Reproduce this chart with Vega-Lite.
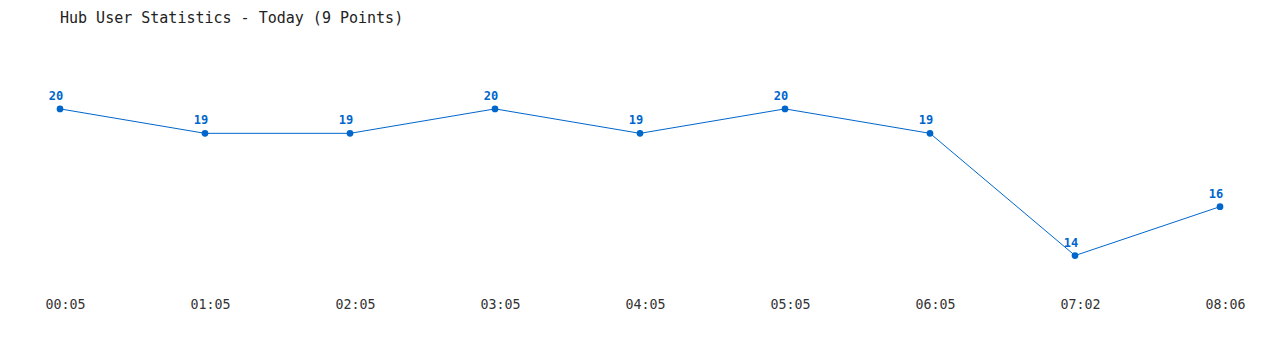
{
  "$schema": "https://vega.github.io/schema/vega-lite/v6.json",
  "autosize": "none",
  "width": 1160,
  "height": 220,
  "padding": {"left": 60, "top": 60, "right": 60, "bottom": 70},
  "background": "white",
  "title": {
    "text": "Hub User Statistics - Today (9 Points)",
    "anchor": "start",
    "frame": "group",
    "offset": 34,
    "font": "DejaVu Sans Mono",
    "fontSize": 15,
    "fontWeight": "normal",
    "color": "#222222"
  },
  "data": {
    "values": [
      {"time": "00:05", "users": 20},
      {"time": "01:05", "users": 19},
      {"time": "02:05", "users": 19},
      {"time": "03:05", "users": 20},
      {"time": "04:05", "users": 19},
      {"time": "05:05", "users": 20},
      {"time": "06:05", "users": 19},
      {"time": "07:02", "users": 14},
      {"time": "08:06", "users": 16}
    ]
  },
  "encoding": {
    "x": {
      "field": "time",
      "type": "ordinal",
      "sort": null,
      "scale": {"type": "point", "padding": 0},
      "axis": {
        "title": null,
        "domain": false,
        "ticks": false,
        "grid": false,
        "labelAngle": 0,
        "labelFont": "DejaVu Sans Mono",
        "labelFontSize": 13.3,
        "labelColor": "#333333",
        "labelPadding": 17,
        "labelOffset": 5,
        "labelOverlap": false,
        "labelBound": false,
        "labelFlush": false
      }
    },
    "y": {
      "field": "users",
      "type": "quantitative",
      "scale": {"domain": [13, 22], "nice": false, "zero": false},
      "axis": null
    }
  },
  "layer": [
    {"mark": {"type": "line", "color": "#0066cc", "strokeWidth": 1}},
    {"mark": {"type": "point", "filled": true, "color": "#0066cc", "size": 45, "opacity": 1}},
    {
      "mark": {
        "type": "text",
        "color": "#0066cc",
        "font": "DejaVu Sans Mono",
        "fontSize": 12,
        "fontWeight": "bold",
        "dy": -13,
        "dx": -4
      },
      "encoding": {"text": {"field": "users", "type": "quantitative"}}
    }
  ],
  "config": {"view": {"stroke": null}}
}
